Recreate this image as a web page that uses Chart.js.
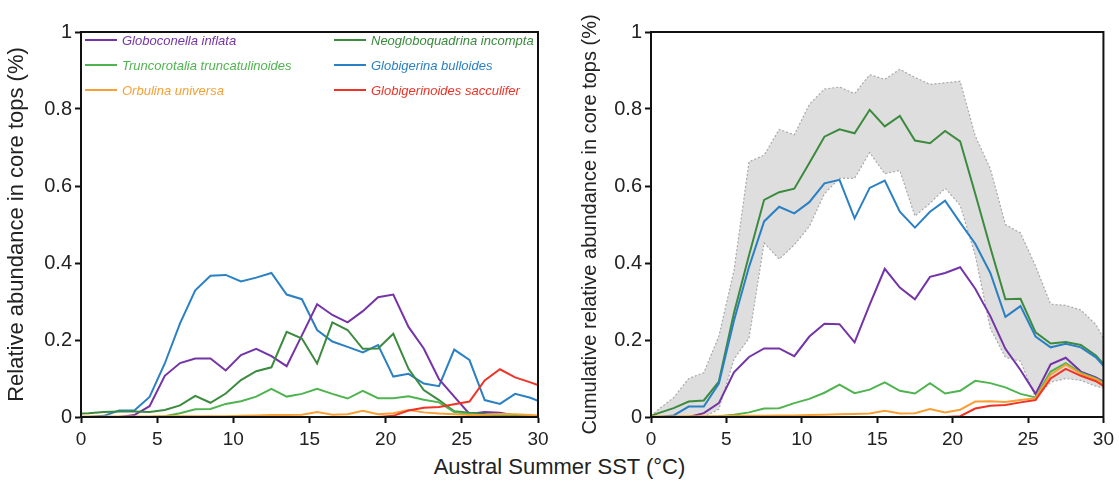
<!DOCTYPE html>
<html><head><meta charset="utf-8">
<script src="https://cdn.jsdelivr.net/npm/chart.js@4.4.1/dist/chart.umd.min.js"></script>
<style>
html,body{margin:0;padding:0;background:#fff;width:1119px;height:484px;overflow:hidden;font-family:"Liberation Sans",Arial,sans-serif;}
#left{position:absolute;left:0;top:0;width:560px;height:450px;}
#right{position:absolute;left:560px;top:0;width:559px;height:450px;}
#xtitle{position:absolute;left:0;width:1119px;top:454px;text-align:center;font-size:22px;color:#222;}
</style></head><body>
<div id="left"><canvas id="c1" width="560" height="450"></canvas></div>
<div id="right"><canvas id="c2" width="559" height="450"></canvas></div>
<div id="xtitle">Austral Summer SST (°C)</div>
<script>
// SST bin positions (°C)
const sst = [0,0.5,1.5,2.5,3.5,4.5,5.5,6.5,7.5,8.5,9.5,10.5,11.5,12.5,13.5,14.5,15.5,16.5,17.5,18.5,19.5,20.5,21.5,22.5,23.5,24.5,25.5,26.5,27.5,28.5,29.5,30];
const xTicks = [0,5,10,15,20,25,30];
const yTicks = [0,0.2,0.4,0.6,0.8,1];

// Left panel: relative abundance
const inflata = [0,0,0,0,0.005,0.028,0.107,0.14,0.152,0.152,0.121,0.161,0.177,0.158,0.132,0.212,0.293,0.265,0.246,0.275,0.311,0.318,0.234,0.178,0.098,0.053,0.008,0.013,0.011,0.004,0.002,0.001];
const incompta = [0.009,0.010,0.013,0.014,0.014,0.013,0.018,0.03,0.055,0.037,0.061,0.096,0.119,0.129,0.221,0.204,0.139,0.246,0.226,0.177,0.178,0.216,0.125,0.07,0.044,0.015,0.011,0.008,0.005,0.003,0.002,0.002];
const truncatulinoides = [0,0,0,0,0,0,0.002,0.01,0.02,0.021,0.034,0.041,0.053,0.073,0.053,0.06,0.073,0.06,0.048,0.068,0.049,0.049,0.054,0.045,0.038,0.013,0.008,0.004,0.003,0.002,0.002,0.002];
const bulloides = [0,0,0.003,0.017,0.017,0.052,0.139,0.243,0.329,0.367,0.369,0.352,0.362,0.374,0.318,0.306,0.226,0.196,0.182,0.168,0.187,0.105,0.112,0.087,0.08,0.175,0.148,0.044,0.034,0.06,0.05,0.042];
const universa = [0.001,0.001,0.001,0.001,0.001,0.001,0.002,0.002,0.002,0.002,0.002,0.003,0.004,0.005,0.005,0.006,0.013,0.006,0.007,0.016,0.007,0.01,0.018,0.012,0.009,0.007,0.005,0.006,0.008,0.007,0.005,0.004];
const sacculifer = [0,0,0,0,0,0,0,0,0,0,0,0,0,0,0,0,0,0,0,0,0,0.003,0.017,0.024,0.026,0.033,0.04,0.095,0.124,0.103,0.09,0.083];

// Right panel: cumulative relative abundance
const cumSacculifer = [0,0,0,0,0,0,0,0,0,0,0,0,0,0,0,0,0,0,0,0,0,0.002,0.022,0.029,0.031,0.038,0.044,0.1,0.125,0.107,0.093,0.081];
const cumUniversa = [0.001,0.001,0.001,0.002,0.002,0.002,0.003,0.003,0.003,0.004,0.004,0.005,0.006,0.007,0.008,0.009,0.016,0.009,0.01,0.021,0.012,0.019,0.04,0.041,0.039,0.044,0.049,0.11,0.136,0.112,0.098,0.087];
const cumTruncatulinoides = [0,0,0,0,0,0.002,0.006,0.012,0.022,0.023,0.036,0.047,0.063,0.084,0.062,0.071,0.09,0.068,0.061,0.088,0.061,0.068,0.094,0.088,0.077,0.06,0.051,0.118,0.14,0.115,0.1,0.09];
const cumInflata = [0,0,0,0,0.01,0.036,0.116,0.156,0.178,0.178,0.158,0.209,0.242,0.241,0.194,0.292,0.385,0.336,0.306,0.364,0.374,0.389,0.333,0.262,0.177,0.122,0.06,0.137,0.154,0.118,0.103,0.092];
const cumBulloides = [0,0,0.004,0.027,0.027,0.087,0.25,0.39,0.508,0.546,0.529,0.558,0.607,0.616,0.516,0.595,0.614,0.533,0.492,0.533,0.562,0.505,0.45,0.374,0.26,0.288,0.209,0.181,0.19,0.181,0.155,0.133];
const cumIncompta = [0.003,0.01,0.023,0.04,0.043,0.092,0.27,0.42,0.564,0.584,0.593,0.66,0.728,0.747,0.737,0.798,0.755,0.782,0.718,0.711,0.743,0.716,0.58,0.44,0.306,0.307,0.22,0.191,0.195,0.187,0.16,0.138];
const bandUpper = [0.003,0.02,0.05,0.1,0.115,0.21,0.38,0.663,0.68,0.747,0.733,0.812,0.852,0.857,0.84,0.889,0.877,0.903,0.882,0.864,0.868,0.872,0.73,0.645,0.5,0.478,0.392,0.293,0.29,0.278,0.24,0.205];
const bandLower = [0,0,0,0,0,0.02,0.15,0.205,0.452,0.41,0.447,0.495,0.58,0.62,0.62,0.687,0.632,0.64,0.522,0.555,0.594,0.55,0.42,0.23,0.155,0.145,0.05,0.09,0.1,0.095,0.08,0.075];

const speciesNames = ['Globoconella inflata','Neogloboquadrina incompta','Truncorotalia truncatulinoides','Globigerina bulloides','Orbulina universa','Globigerinoides sacculifer'];
const speciesColors = ['#7434a6','#3b8a3e','#4fb44f','#2b80c3','#f7a035','#ef3327'];

const TXT = '#222';
function pts(arr){ return arr.map((v,i)=>({x:sst[i], y:v})); }
function lineDS(label, arr, color, order){
  return {label, data:pts(arr), borderColor:color, backgroundColor:color, borderWidth:2, pointRadius:0, tension:0, fill:false, order};
}

const framePlugin = {id:'frame', afterDatasetsDraw(chart){
  const {ctx, chartArea:a} = chart;
  ctx.save(); ctx.strokeStyle='#111'; ctx.lineWidth=2;
  ctx.strokeRect(a.left, a.top, a.right-a.left, a.bottom-a.top);
  ctx.restore();
}};

const legendPlugin = {id:'twoColLegend', afterDraw(chart){
  const ctx = chart.ctx;
  const colX = [85, 334];
  const rowY = [40, 65, 90];
  const order = [[0,0],[1,0],[0,1],[1,1],[0,2],[1,2]]; // [col,row] per species
  ctx.save();
  ctx.font = 'italic 13px "Liberation Sans", Arial, sans-serif';
  ctx.textBaseline = 'middle';
  speciesNames.forEach((name,i)=>{
    const [c,r] = order[i];
    const x = colX[c], y = rowY[r];
    ctx.strokeStyle = speciesColors[i]; ctx.lineWidth = 2;
    ctx.beginPath(); ctx.moveTo(x, y); ctx.lineTo(x+32, y); ctx.stroke();
    ctx.fillStyle = speciesColors[i];
    ctx.fillText(name, x+37, y+1);
  });
  ctx.restore();
}};

function makeOptions(yTitle, yTitleSize, yAxisWidth, rightPad, titlePad){
  return {
    responsive:false, animation:false,
    layout:{padding:{left:0, top:32, right:rightPad, bottom:0}},
    plugins:{legend:{display:false}, tooltip:{enabled:false}},
    scales:{
      x:{type:'linear', min:0, max:30,
        afterBuildTicks(axis){ axis.ticks = xTicks.map(v=>({value:v})); },
        ticks:{font:{size:19, family:'"Liberation Sans", Arial'}, color:TXT, padding:5, maxRotation:0},
        grid:{drawOnChartArea:false, drawTicks:true, tickLength:6, tickWidth:2, tickColor:'#111'},
        border:{display:true, color:'#111', width:2},
        afterFit(axis){ axis.height = 33; }
      },
      y:{type:'linear', min:0, max:1,
        afterBuildTicks(axis){ axis.ticks = yTicks.map(v=>({value:v})); },
        ticks:{font:{size:20, family:'"Liberation Sans", Arial'}, color:TXT, padding:3,
          callback:(v)=> (v===0||v===1) ? String(v) : v.toFixed(1)},
        grid:{drawOnChartArea:false, drawTicks:true, tickLength:6, tickWidth:2, tickColor:'#111'},
        border:{display:true, color:'#111', width:2},
        title:{display:true, text:yTitle, color:TXT, font:{size:yTitleSize, family:'"Liberation Sans", Arial'}, padding:{top:titlePad, bottom:0}},
        afterFit(axis){ axis.width = yAxisWidth; }
      }
    }
  };
}

new Chart(document.getElementById('c1'), {
  type:'line',
  data:{datasets:[
    lineDS(speciesNames[5], sacculifer, speciesColors[5], 1),
    lineDS(speciesNames[4], universa, speciesColors[4], 2),
    lineDS(speciesNames[2], truncatulinoides, speciesColors[2], 3),
    lineDS(speciesNames[1], incompta, speciesColors[1], 4),
    lineDS(speciesNames[0], inflata, speciesColors[0], 5),
    lineDS(speciesNames[3], bulloides, speciesColors[3], 6)
  ]},
  options: makeOptions('Relative abundance in core tops (%)', 22, 81, 22, 4),
  plugins:[framePlugin, legendPlugin]
});

const bandStyle = {borderColor:'#a9a9a9', borderWidth:1.2, borderDash:[2,2], pointRadius:0, tension:0, order:20};
new Chart(document.getElementById('c2'), {
  type:'line',
  data:{datasets:[
    lineDS(speciesNames[5], cumSacculifer, speciesColors[5], 1),
    lineDS(speciesNames[4], cumUniversa, speciesColors[4], 2),
    lineDS(speciesNames[2], cumTruncatulinoides, speciesColors[2], 3),
    lineDS(speciesNames[0], cumInflata, speciesColors[0], 4),
    lineDS(speciesNames[3], cumBulloides, speciesColors[3], 5),
    lineDS(speciesNames[1], cumIncompta, speciesColors[1], 6),
    Object.assign({label:'lower', data:pts(bandLower), fill:false}, bandStyle),
    Object.assign({label:'upper', data:pts(bandUpper), fill:6, backgroundColor:'rgba(222,222,222,1)'}, bandStyle)
  ]},
  options: makeOptions('Cumulative relative abundance in core tops (%)', 20, 91, 11, 18),
  plugins:[framePlugin]
});
</script>
</body></html>
